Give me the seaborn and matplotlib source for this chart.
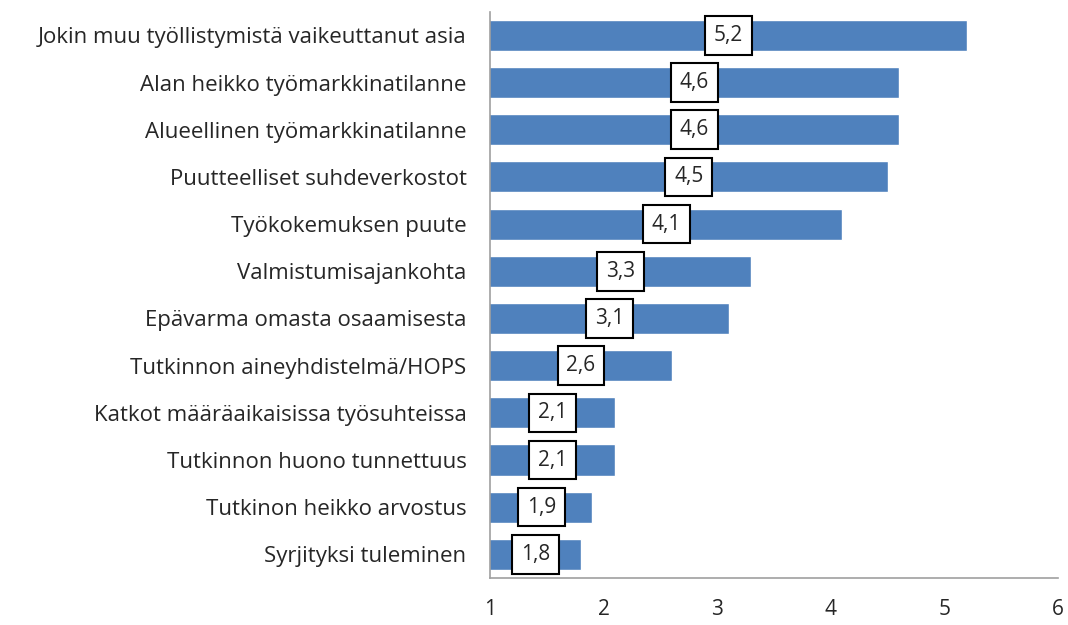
import matplotlib
matplotlib.use("Agg")
import matplotlib.pyplot as plt
import seaborn as sns
import pandas as pd

categories = [
    "Jokin muu työllistymistä vaikeuttanut asia",
    "Alan heikko työmarkkinatilanne",
    "Alueellinen työmarkkinatilanne",
    "Puutteelliset suhdeverkostot",
    "Työkokemuksen puute",
    "Valmistumisajankohta",
    "Epävarma omasta osaamisesta",
    "Tutkinnon aineyhdistelmä/HOPS",
    "Katkot määräaikaisissa työsuhteissa",
    "Tutkinnon huono tunnettuus",
    "Tutkinon heikko arvostus",
    "Syrjityksi tuleminen",
]
values = [5.2, 4.6, 4.6, 4.5, 4.1, 3.3, 3.1, 2.6, 2.1, 2.1, 1.9, 1.8]
x_ticks = [1, 2, 3, 4, 5, 6]

df = pd.DataFrame({"asia": categories, "arvo": values})

sns.set_style("white")
plt.rcParams["font.family"] = ["Open Sans", "DejaVu Sans"]

fig = plt.figure(figsize=(10.68, 6.25), dpi=100)
ax = fig.add_axes([0.459, 0.0752, 0.5316, 0.906])

sns.barplot(data=df, y="asia", x="arvo", orient="h", color="#4F81BD",
            saturation=1, width=0.66, ax=ax)

# bars start at the axis minimum (1)
ax.set_xlim(1, 6)
ax.set_ylim(11.5, -0.5)
ax.set_xticks(x_ticks)
ax.set_xticklabels([str(t) for t in x_ticks], fontsize=15)
ax.tick_params(axis="x", length=0, pad=15)
ax.tick_params(axis="y", length=0, pad=17, labelsize=16)
ax.set_xlabel("")
ax.set_ylabel("")

for s in ["top", "right"]:
    ax.spines[s].set_visible(False)
for s in ["left", "bottom"]:
    ax.spines[s].set_color("#A0A0A0")
    ax.spines[s].set_linewidth(1.2)

for i, v in enumerate(values):
    ax.text((1 + v) / 2, i, f"{v:.1f}".replace(".", ","), ha="center", va="center",
            fontsize=15,
            bbox=dict(boxstyle="square,pad=0.42", fc="white", ec="black", lw=1.5))

fig.savefig("out.png", dpi=100)
